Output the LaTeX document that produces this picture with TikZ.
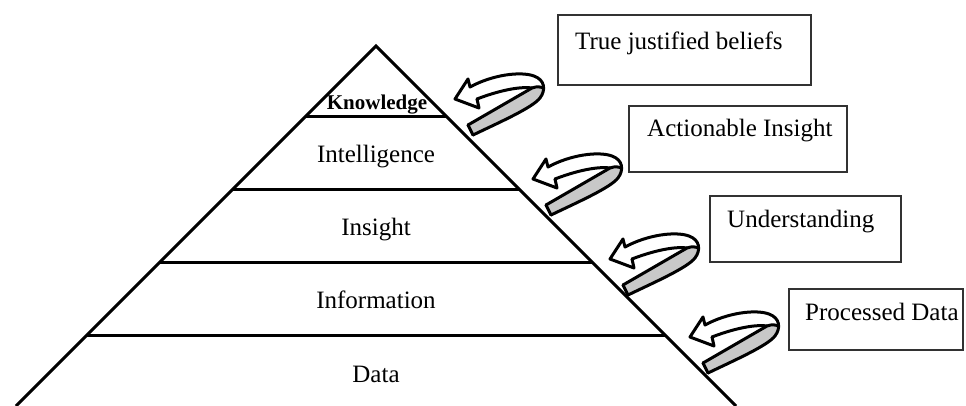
\documentclass[tikz,border=0pt]{standalone}
\usepackage{fontspec}
\setmainfont{Liberation Serif}
\definecolor{bandgray}{RGB}{200,200,200}
\definecolor{boxgray}{RGB}{50,50,50}
\begin{document}
\begin{tikzpicture}[x=1pt,y=-1pt,
  edge/.style={line width=3pt},
  layer/.style={font=\fontsize{25}{30}\selectfont, inner sep=0pt, anchor=base},
  toplayer/.style={font=\bfseries\fontsize{21}{25}\selectfont, inner sep=0pt, anchor=base},
  box/.style={draw=boxgray, line width=2pt, inner sep=0pt, anchor=north west},
  boxtext/.style={font=\fontsize{25}{30}\selectfont, inner sep=0pt, anchor=base west},
  outline/.style={line width=3pt, line join=round, line cap=round},
  pics/ribbonarrow/.style={code={
    % white back of the ribbon: shaft and head
    \path[fill=white]
      (3,5) .. controls (30,-8) and (62,-22) .. (70,-32)
      .. controls (76,-40) and (75,-50) .. (64,-54)
      .. controls (50,-59) and (22,-55) .. (0,-43)
      -- (-2,-51) -- (-15,-31) -- (9,-22) -- (7,-31)
      .. controls (25,-38) and (48,-44) .. (62,-42)
      -- (-2,-5) -- cycle;
    % grey front band
    \path[fill=bandgray]
      (-2,-5) -- (62,-42) .. controls (67,-44) and (71,-43) .. (73.6,-42)
      .. controls (74,-38) and (72.5,-34.5) .. (70,-32)
      .. controls (62,-22) and (30,-8) .. (3,5) -- cycle;
    % fold line and inner edge of shaft
    \draw[outline] (-2,-5) -- (62,-42) .. controls (67,-44) and (71,-43) .. (73.6,-42);
    \draw[outline] (7,-31) .. controls (25,-38) and (48,-44) .. (62,-42);
    % outer contour
    \draw[outline]
      (3,5) .. controls (30,-8) and (62,-22) .. (70,-32)
      .. controls (76,-40) and (75,-50) .. (64,-54)
      .. controls (50,-59) and (22,-55) .. (0,-43)
      -- (-2,-51) -- (-15,-31) -- (9,-22) -- (7,-31);
    \draw[outline] (3,5) -- (-2,-5);
  }}
]
\useasboundingbox (0,0) rectangle (966,406);

% pyramid outline
\coordinate (apex) at (376,46);
\coordinate (bl) at (16,406);
\coordinate (br) at (736,406);
\draw[black!12, line width=1pt] (bl) -- (br);
\draw[edge] (bl) -- (apex) -- (br);
\foreach \yy in {117,190,262,335}
  \draw[edge] ({376-(\yy-46)},\yy) -- ({376+(\yy-46)},\yy);

% layer labels
\node[toplayer] (knowledge) at (377,110) {Knowledge};
\node[layer] (intelligence) at (376,163) {Intelligence};
\node[layer] (insight) at (376,235) {Insight};
\node[layer] (information) at (376,308) {Information};
\node[layer] (data) at (376,382) {Data};

% description boxes
\node[box, minimum width=253pt, minimum height=70pt] (b1) at (557,14) {};
\node[box, minimum width=218pt, minimum height=66pt] (b2) at (628,105) {};
\node[box, minimum width=191pt, minimum height=66pt] (b3) at (709,195) {};
\node[box, minimum width=174pt, minimum height=61pt] (b4) at (788,288) {};
\node[boxtext] (t1) at (575,50) {True justified beliefs};
\node[boxtext] (t2) at (647,137) {Actionable Insight};
\node[boxtext] (t3) at (727,227) {Understanding};
\node[boxtext] (t4) at (805,320) {Processed Data};

% curled arrows along the right face
\pic (r1) at (470,130) {ribbonarrow};
\pic (r2) at (548,210) {ribbonarrow};
\pic (r3) at (625,290) {ribbonarrow};
\pic (r4) at (705,368) {ribbonarrow};
\end{tikzpicture}
\end{document}
